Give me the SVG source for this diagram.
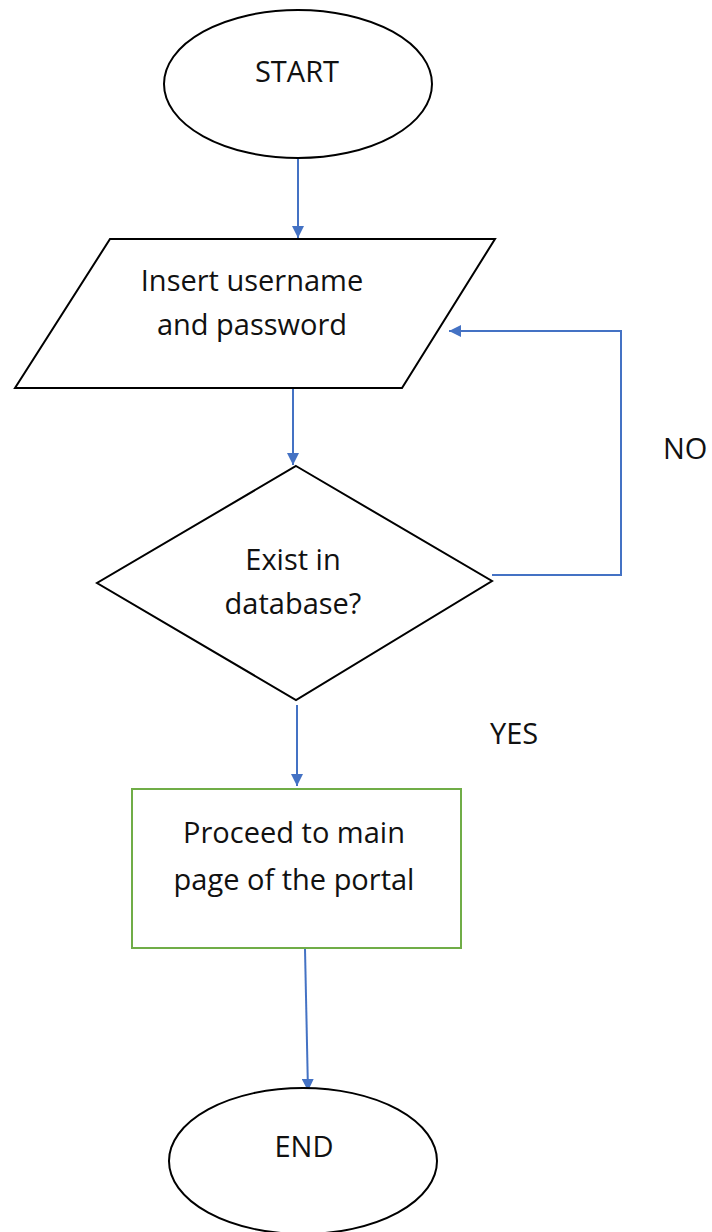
<svg xmlns="http://www.w3.org/2000/svg" width="712" height="1232" viewBox="0 0 712 1232">
<style>
.shape{fill:#fff;stroke:#000;stroke-width:2}
.proc{fill:#fff;stroke:#70AD47;stroke-width:2}
.conn{fill:none;stroke:#4472C4;stroke-width:2}
text{font-family:"Open Sans","Noto Sans",sans-serif;font-size:29px;fill:#111;text-anchor:middle}
.lbl{text-anchor:start}
</style>
<defs>
<marker id="arr" viewBox="0 0 10 10" refX="10" refY="5" markerWidth="6" markerHeight="6" markerUnits="strokeWidth" orient="auto">
<path d="M0,0 L10,5 L0,10 z" fill="#4472C4"/>
</marker>
</defs>
<rect width="712" height="1232" fill="#fff"/>
<g id="connectors">
<line class="conn" x1="298" y1="159" x2="298" y2="238" marker-end="url(#arr)"/>
<line class="conn" x1="293" y1="389" x2="293" y2="465" marker-end="url(#arr)"/>
<polyline class="conn" points="492,575 621,575 621,331 449,331" marker-end="url(#arr)"/>
<line class="conn" x1="297" y1="705" x2="297" y2="786" marker-end="url(#arr)"/>
<line class="conn" x1="305" y1="949" x2="308" y2="1091" marker-end="url(#arr)"/>
</g>
<g id="start">
<ellipse class="shape" cx="298" cy="84" rx="134" ry="74"/>
<text x="297" y="82">START</text>
</g>
<g id="input">
<polygon class="shape" points="110,239 495,239 402,388 15,388"/>
<text x="252" y="291">Insert username</text>
<text x="252" y="335">and password</text>
</g>
<g id="decision">
<polygon class="shape" points="296,466 492,581 296,700 97,583"/>
<text x="293" y="570">Exist in</text>
<text x="293" y="614">database?</text>
</g>
<g id="proceed">
<rect class="proc" x="132" y="789" width="329" height="159"/>
<text x="294" y="843">Proceed to main</text>
<text x="294" y="890">page of the portal</text>
</g>
<g id="end">
<ellipse class="shape" cx="303" cy="1161" rx="134" ry="73"/>
<text x="304" y="1157">END</text>
</g>
<g id="labels">
<text class="lbl" x="663" y="459">NO</text>
<text class="lbl" x="490" y="744">YES</text>
</g>
</svg>
